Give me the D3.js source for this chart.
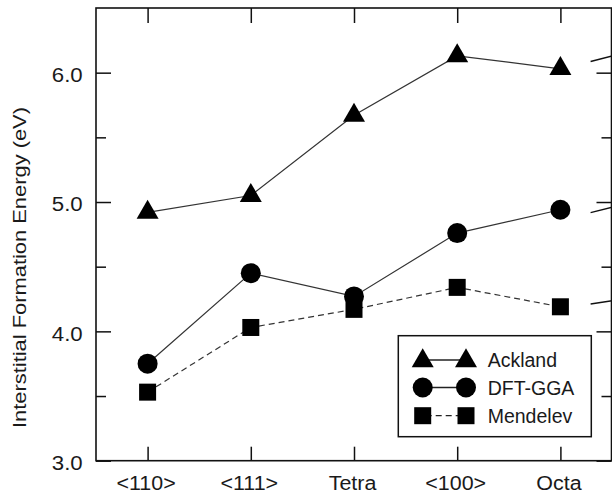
<!DOCTYPE html>
<html>
<head>
<meta charset="utf-8">
<script src="https://cdn.jsdelivr.net/npm/d3@7"></script>
<style>
  html, body { margin: 0; padding: 0; background: #fff; }
  svg { display: block; }
  text { font-family: "Liberation Sans", Arial, Helvetica, sans-serif; fill: #1a1a1a; }
</style>
</head>
<body>
<svg id="chart" width="612" height="496"></svg>
<script>
// Interstitial configurations along the x axis
const categories = ["<110>", "<111>", "Tetra", "<100>", "Octa"];

// Formation energies (eV) for each potential / method
const ackland  = [4.92, 5.05, 5.67, 6.13, 6.03];
const dftGga   = [3.75, 4.45, 4.27, 4.76, 4.94];
const mendelev = [3.53, 4.03, 4.17, 4.34, 4.19];

const seriesNames = ["Ackland", "DFT-GGA", "Mendelev"];

// Y axis ticks
const yMajorTicks = [3.0, 4.0, 5.0, 6.0];
const yMinorTicks = [3.5, 4.5, 5.5];

// Leader lines running off to the right of the frame (start / end energy)
const leaderFrom = [6.086, 4.918, 4.212];
const leaderTo   = [6.13, 4.96, 4.237];

const svg = d3.select("#chart");
const frame = { left: 96, right: 611.5, top: 8, bottom: 460.7 };

const x = d3.scalePoint().domain(categories).range([frame.left, 612]).padding(0.5);
const y = d3.scaleLinear().domain([3.0, 6.5]).range([frame.bottom, frame.top]);

const series = [
  { name: seriesNames[0], values: ackland,  marker: "triangle", dash: null },
  { name: seriesNames[1], values: dftGga,   marker: "circle",   dash: null },
  { name: seriesNames[2], values: mendelev, marker: "square",   dash: "6,4" }
];

// Stretch text along its baseline
function widen(sel, k) {
  sel.each(function () {
    const len = this.getComputedTextLength();
    d3.select(this).attr("textLength", len * k).attr("lengthAdjust", "spacingAndGlyphs");
  });
}

function drawMarker(g, type, cx, cy) {
  if (type === "triangle") {
    const w = 22, h = 19;
    g.append("path")
      .attr("d", `M${cx},${cy - h * 2 / 3}L${cx + w / 2},${cy + h / 3}L${cx - w / 2},${cy + h / 3}Z`)
      .attr("fill", "#000");
  } else if (type === "circle") {
    g.append("circle").attr("cx", cx).attr("cy", cy).attr("r", 10).attr("fill", "#000");
  } else {
    const s = 17;
    g.append("rect").attr("x", cx - s / 2).attr("y", cy - s / 2)
      .attr("width", s).attr("height", s).attr("fill", "#000");
  }
}

// Axes: ticks point inward on all four sides
const axisStyle = g => {
  g.select(".domain").remove();
  g.selectAll("line").attr("stroke", "#111").attr("stroke-width", 1.5);
  g.selectAll("text").attr("font-size", 19.5).style("fill", "#1a1a1a")
    .attr("font-family", "Liberation Sans, Arial, sans-serif");
};

const yLeft = svg.append("g").attr("transform", `translate(${frame.left},0)`)
  .call(d3.axisLeft(y).tickValues(yMajorTicks).tickFormat(d3.format(".1f"))
    .tickSize(-15).tickPadding(13.3))
  .call(axisStyle);
yLeft.selectAll("text").attr("dy", "0.46em");
widen(yLeft.selectAll("text"), 1.14);

svg.append("g").attr("transform", `translate(${frame.left},0)`)
  .call(d3.axisLeft(y).tickValues(yMinorTicks).tickFormat("").tickSize(-10))
  .call(axisStyle);

svg.append("g").attr("transform", `translate(${frame.right},0)`)
  .call(d3.axisRight(y).tickValues(yMajorTicks).tickFormat("").tickSize(-15))
  .call(axisStyle);
svg.append("g").attr("transform", `translate(${frame.right},0)`)
  .call(d3.axisRight(y).tickValues(yMinorTicks).tickFormat("").tickSize(-10))
  .call(axisStyle);

const xBottom = svg.append("g").attr("transform", `translate(0,${frame.bottom})`)
  .call(d3.axisBottom(x).tickSize(-14).tickPadding(15))
  .call(axisStyle);
widen(xBottom.selectAll("text"), 1.1);
xBottom.selectAll("text").attr("dx", -2);

svg.append("g").attr("transform", `translate(0,${frame.top})`)
  .call(d3.axisTop(x).tickFormat("").tickSize(-15))
  .call(axisStyle);

// Frame
svg.append("rect")
  .attr("x", frame.left).attr("y", frame.top)
  .attr("width", frame.right - frame.left).attr("height", frame.bottom - frame.top)
  .attr("fill", "none").attr("stroke", "#111").attr("stroke-width", 1.6);

// Y axis title
const yTitle = svg.append("text")
  .attr("transform", `translate(26,267.5) rotate(-90)`)
  .attr("text-anchor", "middle")
  .attr("font-size", 19)
  .text("Interstitial Formation Energy (eV)");
yTitle.attr("textLength", 321).attr("lengthAdjust", "spacingAndGlyphs");

// Series lines and markers
const line = d3.line().x((d, i) => x(categories[i])).y(d => y(d));
series.forEach(s => {
  svg.append("path")
    .datum(s.values)
    .attr("d", line)
    .attr("fill", "none")
    .attr("stroke", "#333")
    .attr("stroke-width", 1.2)
    .attr("stroke-dasharray", s.dash);
});
series.forEach(s => {
  const g = svg.append("g");
  s.values.forEach((v, i) => drawMarker(g, s.marker, x(categories[i]), y(v)));
});

// Leader lines at the right edge
const lastX = x(categories[categories.length - 1]);
leaderFrom.forEach((v, i) => {
  svg.append("line")
    .attr("x1", lastX + 30.2).attr("y1", y(v))
    .attr("x2", lastX + 52).attr("y2", y(leaderTo[i]))
    .attr("stroke", "#111").attr("stroke-width", 1.4);
});

// Legend
const legend = svg.append("g");
legend.append("rect")
  .attr("x", 398.3).attr("y", 335.7).attr("width", 193).attr("height", 101)
  .attr("fill", "#fff").attr("stroke", "#111").attr("stroke-width", 1.5);
const rowY = [360, 387.5, 415.7];
series.forEach((s, i) => {
  const cy = rowY[i];
  legend.append("line")
    .attr("x1", 422.7).attr("x2", 466).attr("y1", cy).attr("y2", cy)
    .attr("stroke", "#222").attr("stroke-width", 1.3)
    .attr("stroke-dasharray", s.dash ? "6,4" : null)
    .attr("stroke-dashoffset", s.dash ? -3 : null);
  drawMarker(legend, s.marker, 422.7, cy + (s.marker === "triangle" ? 1 : 0));
  drawMarker(legend, s.marker, 466, cy + (s.marker === "triangle" ? 1 : 0));
  legend.append("text")
    .attr("x", 487.7).attr("y", cy + 7.2)
    .attr("font-size", 19.5)
    .text(s.name);
});
</script>
</body>
</html>
